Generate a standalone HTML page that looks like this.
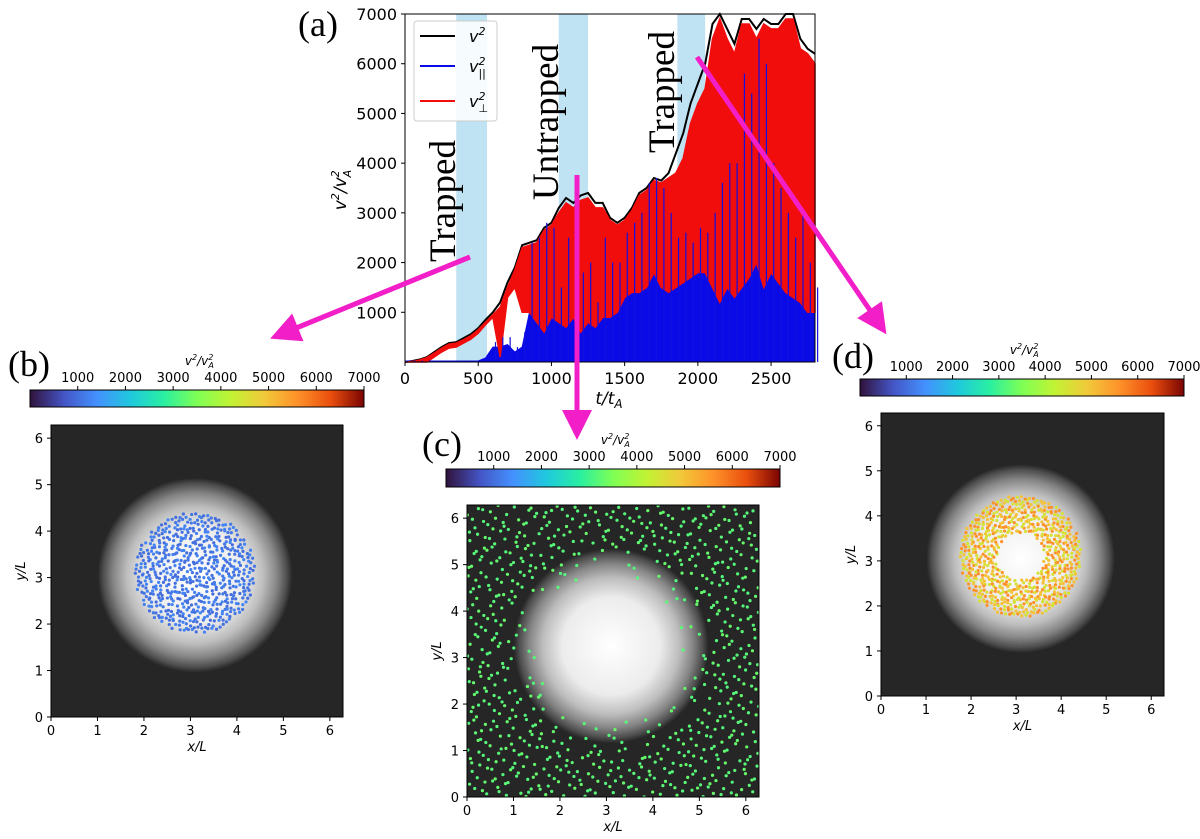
<!DOCTYPE html>
<html><head><meta charset="utf-8"><style>
html,body{margin:0;padding:0;background:#fff;}
svg{display:block;font-family:"DejaVu Sans","Liberation Sans",sans-serif;}
.serif{font-family:"Liberation Serif",serif;}
</style></head><body>
<svg id="fig" xmlns="http://www.w3.org/2000/svg" width="1200" height="839" viewBox="0 0 1200 839">
<defs>
<linearGradient id="turbo" x1="0" x2="1" y1="0" y2="0">
<stop offset="0" stop-color="#30123b"/><stop offset="0.1" stop-color="#4454c4"/><stop offset="0.2" stop-color="#4490fe"/><stop offset="0.3" stop-color="#1fc8de"/><stop offset="0.4" stop-color="#29efa2"/><stop offset="0.5" stop-color="#7eff55"/><stop offset="0.6" stop-color="#c1f334"/><stop offset="0.7" stop-color="#f1ca3a"/><stop offset="0.8" stop-color="#fe922a"/><stop offset="0.9" stop-color="#ea4f0d"/><stop offset="1" stop-color="#7a0403"/>
</linearGradient>
<radialGradient id="vortex">
<stop offset="0" stop-color="#ffffff"/><stop offset="0.5" stop-color="#ececec"/><stop offset="0.7" stop-color="#bdbdbd"/><stop offset="0.84" stop-color="#858585"/><stop offset="0.94" stop-color="#4e4e4e"/><stop offset="1" stop-color="#242424"/>
</radialGradient>
<marker id="ah" markerWidth="6" markerHeight="6" refX="3" refY="3" orient="auto" markerUnits="strokeWidth"><path d="M0,0 L6,3 L0,6 z" fill="#f21fc9"/></marker>
</defs>
<g id="panelA"></g>
<g id="panels"></g>
<g id="arrows"></g>
</svg>
<script>
const tVals=[0,50,100,150,200,250,300,350,400,450,500,550,600,650,700,750,800,850,900,950,1000,1050,1100,1150,1200,1250,1300,1350,1400,1450,1500,1550,1600,1650,1700,1750,1800,1850,1900,1950,2000,2050,2100,2150,2200,2250,2300,2350,2400,2450,2500,2550,2600,2650,2700,2750,2800];
const v2Total=[0,20,50,100,200,300,380,400,480,560,680,850,1000,1200,1600,1900,2350,2400,2450,2700,2800,3100,3300,3200,3350,3400,3200,3200,2900,2800,2900,3100,3400,3500,3700,3650,3800,4200,4600,5200,5600,6000,6800,7000,6700,6400,6900,6900,6700,6900,6800,6800,7000,7000,6500,6300,6200];
const v2PerpMax=[0,10,40,90,180,280,360,380,450,530,650,800,950,1100,1500,1850,2300,2350,2400,2650,2750,3000,3200,3100,3250,3300,3100,3100,2850,2750,2850,3050,3350,3450,3650,3600,3700,3800,4100,4800,5200,5500,6500,6900,6500,6200,6800,6800,6500,6800,6700,6700,6900,6900,6300,6200,6000];
const v2PerpMin=[0,0,0,0,100,200,280,300,380,460,580,750,900,100,1300,1500,1000,1000,800,600,900,800,700,900,600,800,700,900,900,1000,1300,1400,1400,1500,1800,1500,1400,1500,1600,1700,1800,1800,1500,1200,1500,1300,1500,1700,2000,1500,1800,1600,1400,1300,1200,1000,1000];
const v2ParTop=[20,20,20,20,20,20,20,20,20,20,20,80,300,300,350,200,300,1000,800,600,900,800,700,900,600,800,700,900,900,1000,1300,1400,1400,1500,1800,1500,1400,1500,1600,1700,1800,1800,1500,1200,1500,1300,1500,1700,2000,1500,1800,1600,1400,1300,1200,1000,1000];
const v2ParSpike=[30,30,30,30,30,30,30,30,30,30,30,100,400,500,500,300,600,2400,2500,2800,2700,1500,2500,1500,1800,2000,1200,2500,2000,2000,2600,2800,3000,3600,3700,3500,3000,2500,2600,2400,2700,2600,3000,3600,4000,4000,5800,5400,6500,6000,4000,3500,3000,2500,3000,2000,1500];
const bandStarts=[350,1050,1860];
const bandEnds=[560,1250,2050];
const bandLabels=["Trapped","Untrapped","Trapped"];
const xTicks=[0,500,1000,1500,2000,2500];
const yTicks=[1000,2000,3000,4000,5000,6000,7000];
const cbTicks=[1000,2000,3000,4000,5000,6000,7000];
const panelLetters=["(b)","(c)","(d)"];
const panelV2=[[1100,1000,1250],[3200,3300,3150],[4500,5000,5600]];
const spaceTicks=[0,1,2,3,4,5,6];

const NS="http://www.w3.org/2000/svg";
function mk(tag,attrs,parent,txt){const e=document.createElementNS(NS,tag);for(const k in attrs)e.setAttribute(k,attrs[k]);if(txt!==undefined)e.textContent=txt;parent.appendChild(e);return e;}

const A=document.getElementById('panelA');
const ax={x0:405,x1:815,y0:14,y1:362,tmax:2800,vmax:7000};
const X=t=>ax.x0+t/ax.tmax*(ax.x1-ax.x0);
const Y=v=>ax.y1-v/ax.vmax*(ax.y1-ax.y0);
for(let i=0;i<bandStarts.length;i++){
  const r=mk('rect',{x:X(bandStarts[i]),y:ax.y0,width:X(bandEnds[i])-X(bandStarts[i]),height:ax.y1-ax.y0,fill:'#bfe3f2'},A);
  
  
}
let pts=tVals.map((t,i)=>X(t)+','+Y(v2Total[i])).join(' ');
let el=mk('polyline',{points:pts,fill:'none',stroke:'#000','stroke-width':2},A);


let bp=tVals.map((t,i)=>X(t)+','+Y(v2ParTop[i])).join(' ')+' '+X(tVals[tVals.length-1])+','+Y(0)+' '+X(0)+','+Y(0);
el=mk('polygon',{points:bp,fill:'#0a0ae6',stroke:'#0a0ae6','stroke-width':1},A);


let up=tVals.map((t,i)=>X(t)+','+Y(v2PerpMax[i]));
let lo=tVals.map((t,i)=>X(t)+','+Y(v2PerpMin[i])).reverse();
el=mk('polygon',{points:up.concat(lo).join(' '),fill:'#f20d0d',stroke:'#f20d0d','stroke-width':1.5},A);


for(let i=0;i<tVals.length;i++){
  if(v2ParSpike[i]>v2ParTop[i]){
    const tx=X(tVals[i]+18);
    const s=mk('line',{x1:tx,x2:tx,y1:Y(0),y2:Y(v2ParSpike[i]),stroke:'#1010e0','stroke-width':1.2},A);
    
    
  }
}
el=mk('rect',{x:ax.x0,y:ax.y0,width:ax.x1-ax.x0,height:ax.y1-ax.y0,fill:'none',stroke:'#000','stroke-width':1},A);


xTicks.forEach(v=>{
  mk('line',{x1:X(v),x2:X(v),y1:ax.y1,y2:ax.y1+4,stroke:'#000'},A);
  const t=mk('text',{x:X(v),y:ax.y1+22,'text-anchor':'middle','font-size':16},A,String(v));
  
  
});
yTicks.forEach(v=>{
  mk('line',{x1:ax.x0-4,x2:ax.x0,y1:Y(v),y2:Y(v),stroke:'#000'},A);
  const t=mk('text',{x:ax.x0-8,y:Y(v)+6,'text-anchor':'end','font-size':16},A,String(v));
  
  
});
</script>
<script>
(function(){
const A=document.getElementById('panelA');
A.insertAdjacentHTML('beforeend',`
<text x="609" y="404" text-anchor="middle" font-size="17" font-style="italic">t/t<tspan font-size="12" dy="4">A</tspan></text>
<text transform="translate(346,190) rotate(-90)" text-anchor="middle" font-size="17" font-style="italic">v<tspan font-size="11" dy="-7">2</tspan><tspan dy="7">/v</tspan><tspan font-size="11" dy="-7">2</tspan><tspan font-size="11" dx="-7" dy="12">A</tspan></text>
<text class="serif" x="298" y="36" font-size="36">(a)</text>
<text class="serif" transform="translate(455,201) rotate(-90)" text-anchor="middle" font-size="37">Trapped</text>
<text class="serif" transform="translate(558,122) rotate(-90)" text-anchor="middle" font-size="37">Untrapped</text>
<text class="serif" transform="translate(674,92) rotate(-90)" text-anchor="middle" font-size="37">Trapped</text>
<g>
<rect x="414" y="21" width="83" height="100" rx="3" fill="#fff" fill-opacity="0.85" stroke="#ccc"/>
<line x1="420" x2="455" y1="36" y2="36" stroke="#000" stroke-width="2"/>
<line x1="420" x2="455" y1="66" y2="66" stroke="#0a0ae6" stroke-width="2"/>
<line x1="420" x2="455" y1="101" y2="101" stroke="#f20d0d" stroke-width="2"/>
<text x="469" y="42" font-size="16" font-style="italic">v<tspan font-size="11" dy="-7">2</tspan></text>
<text x="469" y="72" font-size="16" font-style="italic">v<tspan font-size="11" dy="-7">2</tspan><tspan font-size="11" dx="-7" dy="12">||</tspan></text>
<text x="469" y="107" font-size="16" font-style="italic">v<tspan font-size="11" dy="-7">2</tspan><tspan font-size="11" dx="-7" dy="12">⊥</tspan></text>
</g>`);
})();
</script>
<script>
const P=document.getElementById('panels');
const panelBoxes=[{x:51,y:425,s:292,cb:{x:30,y:390,w:334,h:17},lx:8,ly:376},{x:467,y:505,s:292,cb:{x:446,y:469,w:334,h:18},lx:422,ly:456},{x:881,y:413,s:283,cb:{x:860,y:379,w:324,h:17},lx:832,ly:368}];
const L=2*Math.PI;
function turbo(v){
  const st=[[0,[48,18,59]],[0.1,[68,84,196]],[0.2,[68,144,254]],[0.3,[31,200,222]],[0.4,[41,239,162]],[0.5,[126,255,85]],[0.6,[193,243,52]],[0.7,[241,202,58]],[0.8,[254,146,42]],[0.9,[234,79,13]],[1,[122,4,3]]];
  const f=Math.max(0,Math.min(1,v/7000));
  for(let i=0;i<st.length-1;i++){if(f<=st[i+1][0]){const a=(f-st[i][0])/(st[i+1][0]-st[i][0]);const c=st[i][1].map((q,k)=>Math.round(q+(st[i+1][1][k]-q)*a));return 'rgb('+c.join(',')+')';}}
  return 'rgb(122,4,3)';
}
function halton(i,b){let f=1,r=0;while(i>0){f/=b;r+=f*(i%b);i=Math.floor(i/b);}return r;}
panelBoxes.forEach((B,pi)=>{
  const g=mk('g',{},P);
  
  
  const sx=u=>B.x+u/L*B.s, sy=u=>B.y+B.s-u/L*B.s;
  const lab=mk('text',{x:B.lx,y:B.ly,'font-size':36,class:'serif'},g,panelLetters[pi]);
  
  
  const cb=mk('rect',{x:B.cb.x,y:B.cb.y,width:B.cb.w,height:B.cb.h,fill:'url(#turbo)',stroke:'#000','stroke-width':1},g);
  
  
  cbTicks.forEach(v=>{
    const xx=B.cb.x+v/7000*B.cb.w;
    mk('line',{x1:xx,x2:xx,y1:B.cb.y-4,y2:B.cb.y,stroke:'#000'},g);
    const t=mk('text',{x:xx,y:B.cb.y-8,'text-anchor':'middle','font-size':13},g,String(v));
    
    
  });
  const ct=mk('text',{x:B.cb.x+3550/7000*B.cb.w,y:B.cb.y-25,'text-anchor':'middle','font-size':12,'font-style':'italic'},g);
  
  
  ct.innerHTML='v<tspan font-size="8" dy="-5">2</tspan><tspan dy="5">/v</tspan><tspan font-size="8" dy="-5">2</tspan><tspan font-size="8" dx="-5" dy="8">A</tspan>';
  const cl=mk('clipPath',{id:'clip'+pi},g);
  mk('rect',{x:B.x,y:B.y,width:B.s,height:B.s},cl);
  const img=mk('g',{'clip-path':'url(#clip'+pi+')'},g);
  
  
  mk('rect',{x:B.x,y:B.y,width:B.s,height:B.s,fill:'#262626'},img);
  const cy=pi===1?3.25:3.05;
  mk('circle',{cx:sx(3.1),cy:sy(cy),r:B.s*2.1/L,fill:'url(#vortex)'},img);
  mk('circle',{cx:sx(3.1),cy:sy(cy),r:B.s*1.95/L,fill:'none',stroke:'#555','stroke-width':2,'stroke-opacity':0.5},img);
  const vals=panelV2[pi];
  let n=0,i=1;
  const target=pi===0?620:(pi===1?750:700);
  while(n<target&&i<20000){
    const hx=halton(i,2),hy=halton(i,3),hz=halton(i,5);i++;
    let px,py;
    if(pi===1){px=hx*L;py=hy*L;const r=Math.hypot(px-3.1,py-3.2);if(r<1.75&&!(r>1.55&&hz<0.3))continue;if(r>1.75&&r<2.3&&hz<0.5)continue;}
    else{const rr=pi===0?Math.sqrt(hx)*1.3:Math.sqrt(0.15+0.85*hx)*1.35;const th=hy*2*Math.PI;px=3.1+rr*Math.cos(th);py=3.1+rr*Math.sin(th);}
    const c=mk('circle',{cx:sx(px),cy:sy(py),r:1.6,fill:turbo(vals[Math.floor(hz*vals.length)])},img);
    
    
    n++;
  }
  const fr=mk('rect',{x:B.x,y:B.y,width:B.s,height:B.s,fill:'none',stroke:'#000'},g);
  
  
  spaceTicks.forEach(v=>{
    mk('line',{x1:sx(v),x2:sx(v),y1:B.y+B.s,y2:B.y+B.s+4,stroke:'#000'},g);
    const tx=mk('text',{x:sx(v),y:B.y+B.s+18,'text-anchor':'middle','font-size':13},g,String(v));
    
    
    mk('line',{x1:B.x-4,x2:B.x,y1:sy(v),y2:sy(v),stroke:'#000'},g);
    const ty=mk('text',{x:B.x-8,y:sy(v)+5,'text-anchor':'end','font-size':13},g,String(v));
    
    
  });
  const xl=mk('text',{x:B.x+B.s/2,y:B.y+B.s+34,'text-anchor':'middle','font-size':13,'font-style':'italic'},g,'x/L');
  
  
  const yl=mk('text',{transform:'translate('+(B.x-26)+','+(B.y+B.s/2)+') rotate(-90)','text-anchor':'middle','font-size':13,'font-style':'italic'},g,'y/L');
  
  
});
const AR=document.getElementById('arrows');
[[470,257,284,333],[577,175,577,425],[697,57,878,322]].forEach((a,k)=>{
  const l=mk('line',{x1:a[0],y1:a[1],x2:a[2],y2:a[3],stroke:'#f21fc9','stroke-width':5,'marker-end':'url(#ah)'},AR);
  
  
});
</script>
</body></html>
